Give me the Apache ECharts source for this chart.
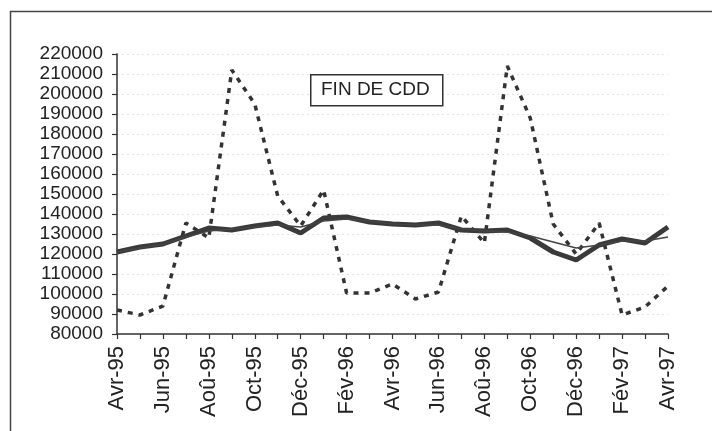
<!DOCTYPE html>
<html>
<head>
<meta charset="utf-8">
<script src="https://cdn.jsdelivr.net/npm/echarts@6/dist/echarts.min.js"></script>
<style>
html,body{margin:0;padding:0;background:#fff;}
#c{width:712px;height:431px;}
</style>
</head>
<body>
<div id="c"></div>
<script>
var months = ['Avr-95','Mai-95','Jun-95','Jul-95','Aoû-95','Sep-95','Oct-95','Nov-95','Déc-95','Jan-96','Fév-96','Mar-96','Avr-96','Mai-96','Jun-96','Jul-96','Aoû-96','Sep-96','Oct-96','Nov-96','Déc-96','Jan-97','Fév-97','Mar-97','Avr-97'];
var brut = [92000,89500,94000,135500,128000,212000,195000,149000,134000,152000,100500,100500,105000,97500,101000,139000,125500,214000,188000,135000,120000,135500,89500,93500,104000];
var cvs = [121000,123500,125000,129000,133000,132000,134000,135500,130500,138000,138500,136000,135000,134500,135500,132000,131500,132000,128000,121000,117000,124500,127500,125500,133500];
var tendance = [121000,123000,125000,128500,131500,132500,133500,134500,133500,136500,137500,136500,135000,134500,134500,132500,131500,131000,129000,126000,123000,124500,126500,126500,128500];
var titre = 'FIN DE CDD';

var chart = echarts.init(document.getElementById('c'), null, {renderer:'canvas'});
var font = '"Liberation Sans", Arial, sans-serif';
chart.setOption({
  animation:false,
  backgroundColor:'#fff',
  grid:{left:117,right:44,top:54,bottom:97},
  xAxis:{
    type:'category',
    data:months,
    boundaryGap:false,
    axisLine:{lineStyle:{color:'#333',width:1.5}},
    axisTick:{interval:0,length:5,lineStyle:{color:'#333',width:1.2}},
    axisLabel:{interval:1,rotate:90,margin:12,fontSize:22,color:'#222',fontFamily:font},
    splitLine:{show:false}
  },
  yAxis:{
    type:'value',
    min:80000,max:220000,interval:10000,
    axisLine:{show:true,lineStyle:{color:'#333',width:1.5}},
    axisTick:{show:true,length:5,lineStyle:{color:'#333',width:1.2}},
    axisLabel:{margin:14,fontSize:19,color:'#222',fontFamily:font,formatter:function(v){return String(v);}},
    splitLine:{show:true,lineStyle:{color:'#e4e4e4',width:1,type:[2,3]}}
  },
  series:[
    {type:'line',data:brut,symbol:'none',lineStyle:{color:'#333',width:3.5,type:[5,6]},z:2},
    {type:'line',data:cvs,symbol:'none',lineStyle:{color:'#3a3a3a',width:5},z:3},
    {type:'line',data:tendance,symbol:'none',lineStyle:{color:'#444',width:1.5},z:4}
  ],
  graphic:[
    {type:'rect',left:8,top:9,shape:{width:720,height:440},style:{fill:null,stroke:'#444',lineWidth:1.5},z:-10,silent:true},
    {type:'rect',left:310,top:74,shape:{width:132,height:31},style:{fill:'#fff',stroke:'#333',lineWidth:1.5},z:10},
    {type:'text',left:321,top:80,style:{text:titre,font:'19px "Liberation Sans", Arial, sans-serif',fill:'#222'},z:11}
  ]
});
</script>
</body>
</html>
